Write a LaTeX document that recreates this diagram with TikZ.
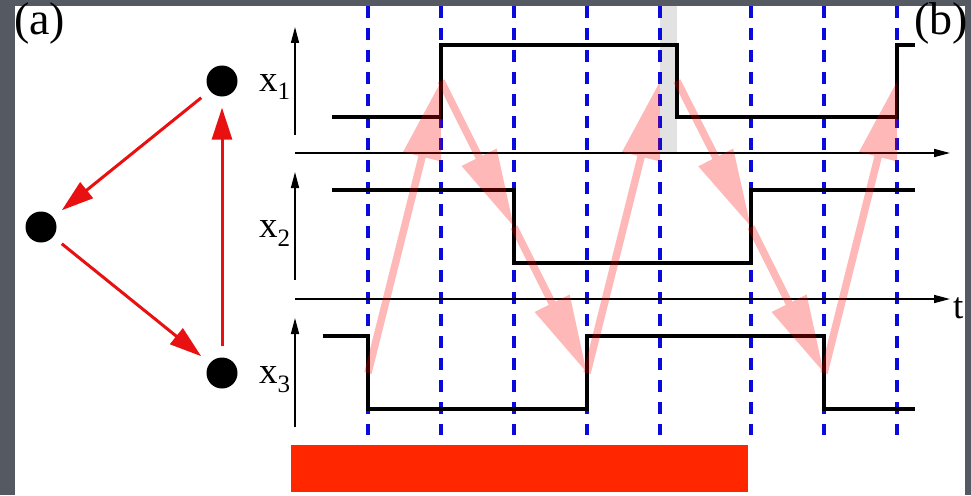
\documentclass[tikz,border=0pt]{standalone}
\usepackage{fontspec}
\setmainfont{Liberation Serif}
\definecolor{slideBg}{HTML}{555961}
\definecolor{cycRed}{HTML}{E81010}
\definecolor{beatBlue}{HTML}{0A0ADC}
\definecolor{delayGray}{HTML}{E2E2E2}
\definecolor{barRed}{HTML}{FF2600}
\usepackage{tikz}
\usetikzlibrary{arrows.meta, positioning, calc}

\newcommand{\xsub}[1]{x\raisebox{-9pt}{\fontsize{25}{25}\selectfont #1}}

\begin{document}
\begin{tikzpicture}[x=1pt, y=-1pt,
  vtx/.style={circle, fill=black, minimum size=31pt, inner sep=0pt},
  lbl/.style={inner sep=0pt, anchor=base west, font=\fontsize{37}{37}\selectfont},
  panel/.style={inner sep=0pt, anchor=base west, font=\fontsize{46}{46}\selectfont},
  cyc/.style={-{Triangle[length=32pt, width=20pt]}, line width=3pt, cycRed,
    shorten <=11pt, shorten >=11pt},
  taxis/.style={-{Triangle[length=16pt, width=8pt]}, line width=1.6pt},
  sig/.style={line width=3.2pt},
  beat/.style={beatBlue, line width=3.2pt, dash pattern=on 12pt off 10pt},
  cause/.style={-{Triangle[length=78pt, width=37pt]}, line width=7.5pt, red}]

  \fill[slideBg] (0,0) rectangle (971,495);
  \fill[white] (15,6) rectangle (965,495);
  \useasboundingbox (0,0) rectangle (971,495);

  % (a) the cycle
  \node[panel] (pa) at (14,35) {(a)};
  \node[vtx] (n1) at (222,81) {};
  \node[vtx] (n2) at (41,227) {};
  \node[vtx] (n3) at (222,373) {};
  \draw[cyc] (n1) -- (n2);
  \draw[cyc] (n2) -- (n3);
  \draw[cyc] (n3) -- (n1);

  % (b) time traces
  \node[panel] (pb) at (914,35) {(b)};
  \fill[delayGray] (660,6) rectangle (677,153);
  \foreach \t in {368,441,514,587,660,751,824,897}
    \draw[beat] (\t,6) -- (\t,435);

  \draw[taxis] (295,135) -- (295,27);
  \draw[taxis] (295,280) -- (295,172);
  \draw[taxis] (295,427) -- (295,318);
  \draw[taxis] (295,153) -- (950,153);
  \draw[taxis] (295,299) -- (950,299);
  \node[lbl] (l1) at (259,91) {\xsub{1}};
  \node[lbl] (l2) at (259,237) {\xsub{2}};
  \node[lbl] (l3) at (259,383) {\xsub{3}};
  \node[lbl] (lt) at (953,318) {t};

  \draw[sig] (332,117) -| (441,45) -| (677,117) -| (897,45) -- (915,45);
  \draw[sig] (332,190) -| (514,263) -| (751,190) -- (915,190);
  \draw[sig] (323,336) -| (368,409) -| (587,336) -| (824,409) -- (915,409);

  \coordinate (up1a) at (441,81);
  \coordinate (gate) at (660,81);
  \coordinate (dn1) at (677,81);
  \coordinate (up1b) at (897,81);
  \coordinate (dn2) at (514,227);
  \coordinate (up2) at (751,227);
  \coordinate (dn3a) at (368,373);
  \coordinate (up3) at (587,373);
  \coordinate (dn3b) at (824,373);

  \begin{scope}[transparency group, opacity=0.28]
    \draw[cause] (dn3a) -- (up1a);
    \draw[cause] (up1a) -- (dn2);
    \draw[cause] (dn2) -- (up3);
    \draw[cause] (up3) -- (gate);
    \draw[cause] (dn1) -- (up2);
    \draw[cause] (up2) -- (dn3b);
    \draw[cause] (dn3b) -- (up1b);
  \end{scope}

  \fill[barRed] (291,445) rectangle (748,492);
\end{tikzpicture}
\end{document}
